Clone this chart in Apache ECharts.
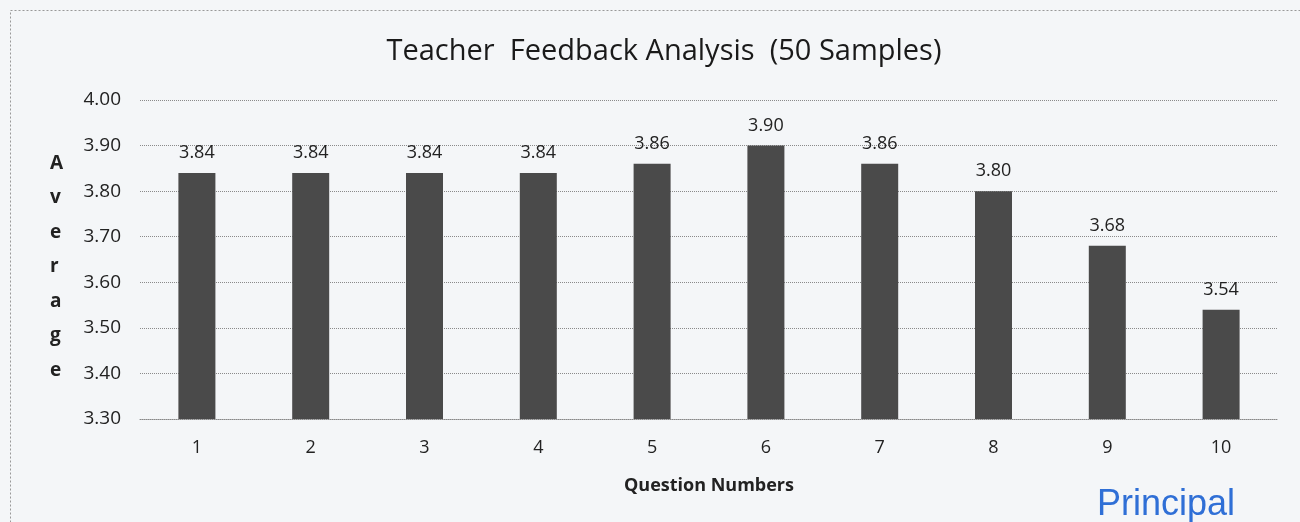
<!DOCTYPE html>
<html>
<head>
<meta charset="utf-8">
<script src="https://cdn.jsdelivr.net/npm/echarts@6/dist/echarts.min.js"></script>
<style>
html,body{margin:0;padding:0;background:#f4f6f8;}
#c{width:1300px;height:522px;}
</style>
</head>
<body>
<div id="c"></div>
<script>
var categories = ['1','2','3','4','5','6','7','8','9','10'];
var averages = [3.84, 3.84, 3.84, 3.84, 3.86, 3.90, 3.86, 3.80, 3.68, 3.54];
var yTicks = [3.30, 3.40, 3.50, 3.60, 3.70, 3.80, 3.90, 4.00];

var chart = echarts.init(document.getElementById('c'));
var font = '"Open Sans", "Liberation Sans", sans-serif';
chart.setOption({
  backgroundColor: '#f4f6f8',
  animation: false,
  title: {
    text: 'Teacher  Feedback Analysis  (50 Samples)',
    left: 659, top: 32, textAlign: 'center',
    textStyle: {fontFamily: font, fontSize: 29, fontWeight: 'normal', color: '#1a1a1a'}
  },
  grid: {left: 140, right: 22, top: 100, bottom: 103, containLabel: false},
  xAxis: {
    type: 'category', data: categories,
    name: 'Question Numbers', nameLocation: 'middle', nameGap: 58,
    nameTextStyle: {fontFamily: font, fontSize: 18, fontWeight: 'bold', color: '#222'},
    axisLine: {show: true, lineStyle: {color: '#888', type: 'dotted', width: 1}},
    axisTick: {show: false},
    axisLabel: {fontFamily: font, fontSize: 18, color: '#222', margin: 20}
  },
  yAxis: {
    type: 'value', min: 3.30, max: 4.00, interval: 0.10,
    axisLine: {show: false}, axisTick: {show: false},
    axisLabel: {fontFamily: font, fontSize: 19, color: '#222', margin: 19,
      formatter: function(v){ return v.toFixed(2); }},
    splitLine: {lineStyle: {color: '#8a8a8a', type: 'dotted', width: 1}}
  },
  series: [{
    type: 'bar', data: averages, barWidth: 37,
    itemStyle: {color: '#4a4a4a'},
    label: {show: true, position: 'top', distance: 11, fontFamily: font, fontSize: 18, color: '#222',
      formatter: function(p){ return p.value.toFixed(2); }}
  }],
  graphic: [
    {type: 'rect', left: 8, top: 8, shape: {width: 1290, height: 520},
     style: {fill: 'none', stroke: '#999', lineDash: [2,2], lineWidth: 1}, silent: true},
    {type: 'text', left: 50, top: 146,
     style: {text: 'A\nv\ne\nr\na\ng\ne', fontFamily: font, fontSize: 19, fontWeight: 'bold',
       lineHeight: 34.5, fill: '#222', align: 'center'}},
    {type: 'text', left: 1097, top: 487,
     style: {text: 'Principal', fontFamily: '"Liberation Sans", sans-serif', fontSize: 36, fill: '#2f6fd6'}}
  ]
});
</script>
</body>
</html>
